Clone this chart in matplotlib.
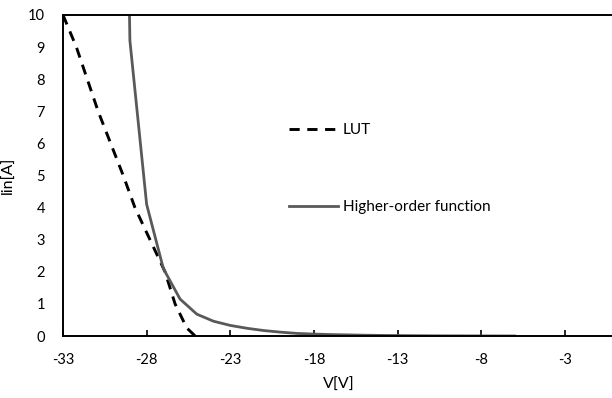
import matplotlib
matplotlib.use('Agg')
import matplotlib.pyplot as plt

# LUT (look-up table) current vs voltage
v_lut = [-33, -32.2, -30.9, -29.4, -28.7, -26.9, -26.3, -25.6, -25.1]
i_lut = [10.0, 9.0, 7.0, 5.0, 4.0, 2.0, 1.0, 0.25, 0.0]

# higher-order function fit
v_fit = [-30, -29, -28, -27, -26, -25, -24, -23, -22, -21, -20, -19, -18,
         -17, -16, -15, -14, -13, -12, -11, -10, -9, -8, -7, -6]
i_fit = [40.0, 9.2, 4.1, 2.1, 1.15, 0.68, 0.46, 0.33, 0.24, 0.17, 0.12, 0.08, 0.06,
         0.045, 0.035, 0.025, 0.018, 0.013, 0.009, 0.006, 0.004, 0.003, 0.002, 0.001, 0.0]

x_ticks = [-33, -28, -23, -18, -13, -8, -3]
y_ticks = list(range(0, 11))

plt.rcParams['font.family'] = ['Lato', 'DejaVu Sans']
plt.rcParams['axes.unicode_minus'] = False

fig = plt.figure(figsize=(6.12, 3.98), dpi=100)
ax = fig.add_axes([63 / 612, 1 - 336 / 398, (615 - 63) / 612, (336 - 15) / 398])

ax.plot(v_lut, i_lut, color='black', linewidth=2.1, linestyle=(0, (3.5, 2.6)), label='LUT')
ax.plot(v_fit, i_fit, color='#595959', linewidth=2.0, label='Higher-order function')

ax.set_xlim(-33, 0)
ax.set_ylim(0, 10)
ax.set_xticks(x_ticks)
ax.set_yticks(y_ticks)
ax.tick_params(axis='x', direction='in', length=4, width=1.2, labelsize=10.5, pad=12)
ax.tick_params(axis='y', length=0, labelsize=10.5, pad=13)
for s in ax.spines.values():
    s.set_linewidth(1.4)
    s.set_color('black')

ax.set_xlabel('V[V]', fontsize=11.5, labelpad=8)
ax.set_ylabel('lin[A]', fontsize=11.5, labelpad=9)

ax.legend(loc='upper left', bbox_to_anchor=(0.385, 0.705), frameon=False, fontsize=11,
          handlelength=3.2, handletextpad=0.3, labelspacing=4.1)

fig.savefig('out.png', dpi=100)
